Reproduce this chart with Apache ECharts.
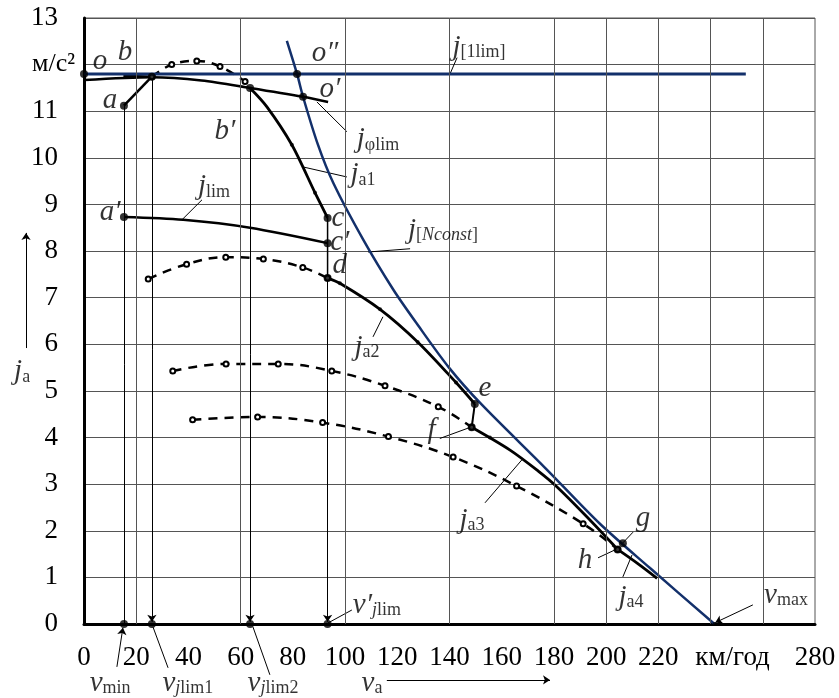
<!DOCTYPE html>
<html>
<head>
<meta charset="utf-8">
<script src="https://cdn.jsdelivr.net/npm/echarts@6/dist/echarts.min.js"></script>
<style>
html,body{margin:0;padding:0;background:#fff}
#chart{width:839px;height:698px}
</style>
</head>
<body>
<div id="chart"></div>
<script>
// vertical grid lines that are drawn in the source (km/h)
const gridX = [20, 60, 100, 140, 180, 200, 220, 240, 260];

// blue curves
const jLim1 = [[0, 11.8], [253.5, 11.8]];
const jNconst = [[77.7, 12.51], [81.6, 11.8], [83.9, 11.31], [89.5, 10.3], [95.5, 9.46], [107, 8.24],
  [118.5, 7.17], [127.4, 6.45], [139.8, 5.5], [152.1, 4.72], [176.8, 3.34],
  [197.6, 2.15], [216.8, 1.2], [241.5, 0]];

// black solid curves
const jPhiLim = [[0, 11.67], [26, 11.73], [45, 11.66], [63.6, 11.5], [83.9, 11.31], [93.5, 11.2]];
const jStart = [[15.1, 11.76], [26, 11.74]];
const jAB = [[15.3, 11.12], [26, 11.74]];
const jA1 = [[63.6, 11.5], [70, 11.1], [79.6, 10.28], [88.5, 9.25], [93.3, 8.71]];
const jLim = [[15.3, 8.73], [38, 8.67], [63.6, 8.5], [93.3, 8.17]];
const jCD = [[93.3, 8.71], [93.3, 8.17], [93.3, 7.42]];
const jA2 = [[93.3, 7.42], [98, 7.31], [113.4, 6.75], [127.8, 6.05], [142.5, 5.18], [149.7, 4.72]];
const jEF = [[149.7, 4.72], [148.5, 4.22]];
const jA3 = [[148.5, 4.22], [163.2, 3.73], [174, 3.28], [181, 2.95], [192.6, 2.3], [204.4, 1.6]];
const jA4 = [[204.4, 1.6], [212, 1.3], [219.5, 0.98]];

// dashed curves (open circles on them)
const dashTop = [[26, 11.74], [33.6, 12.0], [43.2, 12.08], [52.1, 11.96], [61.7, 11.64]];
const dash1 = [[24.6, 7.4], [39.3, 7.72], [54.3, 7.87], [68.7, 7.83], [83.8, 7.65], [93.3, 7.42]];
const dash2 = [[34, 5.43], [54.4, 5.58], [74.4, 5.58], [94.9, 5.43], [115.3, 5.11], [135.7, 4.66], [148.5, 4.22]];
const dash3 = [[41.6, 4.38], [66.5, 4.44], [91.4, 4.32], [116.6, 4.02], [141.4, 3.58], [165.7, 2.96], [191.2, 2.15], [204.4, 1.6]];

// marked points
const bigDots = [[0, 11.8], [26, 11.74], [15.3, 11.12], [63.6, 11.5], [81.6, 11.8], [83.9, 11.31],
  [15.3, 8.73], [93.3, 8.71], [93.3, 8.17], [93.3, 7.42], [149.7, 4.72], [148.5, 4.22],
  [206.4, 1.73], [204.4, 1.6], [15.3, 0], [26, 0], [63.6, 0], [93.3, 0]];
const smallDots = [[79.6, 10.28], [88.5, 9.25], [98, 7.31], [113.4, 6.75], [127.8, 6.05], [142.5, 5.18], [155.5, 4.0], [241.5, 0]];

// thin lines: drops to the axis and leaders
const thinLines = [
  [[15.3, 11.12], [15.3, 0]],
  [[142.9, 12.15], [140.2, 11.8]],
  [[100.7, 10.56], [89.2, 11.2]],
  [[100.7, 9.59], [83.5, 9.81]],
  [[45.2, 9.1], [37.5, 8.67]],
  [[108.8, 7.98], [124.9, 8.05]],
  [[110.7, 6.16], [114.5, 6.59]],
  [[136.3, 3.98], [148.5, 4.23]],
  [[153.6, 2.6], [167.7, 3.52]],
  [[210.3, 1.97], [206.4, 1.74]],
  [[196.9, 1.42], [203.4, 1.59]],
  [[206.4, 1.01], [209.9, 1.48]],
  [[102.6, 0.3], [93.4, 0.02]],
  [[32.2, -0.94], [26.4, -0.06]],
  [[71.2, -1.09], [64.7, -0.06]]
];
const arrowLines = [
  [[26, 11.74], [26, 0.05]],
  [[63.6, 11.5], [63.6, 0.05]],
  [[93.3, 7.42], [93.3, 0.05]],
  [[256.2, 0.41], [241.8, 0.03]],
  [[12.6, -0.92], [14.9, -0.08]],
  [[116, -1.2], [178.5, -1.2]],
  [[-22.2, 5.92], [-22.2, 8.39]]
];

// text labels: [v, j, rich text]
const labels = [
  [6.1, 12.06, '{i|o}'],
  [15.7, 12.27, '{i|b}'],
  [10, 11.24, '{i|a}'],
  [54, 10.56, '{i|b′}'],
  [92.3, 12.25, '{i|o″}'],
  [94.2, 11.46, '{i|o′}'],
  [151.3, 12.38, '{i|j}{s|[1lim]}'],
  [112.6, 10.39, '{i|j}{s|φlim}'],
  [106.9, 9.64, '{i|j}{s|a1}'],
  [49.8, 9.38, '{i|j}{s|lim}'],
  [10, 8.82, '{i|a′}'],
  [97.3, 8.71, '{i|c}'],
  [98, 8.18, '{i|c′}'],
  [98, 7.7, '{i|d}'],
  [137.5, 8.45, '{i|j}{s|[}{si|Nconst}{s|]}'],
  [108.4, 5.94, '{i|j}{s|a2}'],
  [153.6, 5.06, '{i|e}'],
  [133.1, 4.16, '{i|f}'],
  [148.6, 2.23, '{i|j}{s|a3}'],
  [214.1, 2.27, '{i|g}'],
  [191.9, 1.37, '{i|h}'],
  [209.5, 0.58, '{i|j}{s|a4}'],
  [268.9, 0.62, '{i|v}{s|max}'],
  [112.2, 0.41, '{i|v′}{si|j}{s|lim}'],
  [10, -1.27, '{i|v}{s|min}'],
  [39.8, -1.27, '{i|v}{si|j}{s|lim1}'],
  [72.4, -1.27, '{i|v}{si|j}{s|lim2}'],
  [110.3, -1.27, '{i|v}{s|a}'],
  [-23.7, 5.41, '{i|j}{s|a}']
];

const serif = 'Liberation Serif, Times New Roman, serif';
const richText = {
  i: {fontFamily: serif, fontStyle: 'italic', fontSize: 29, color: '#000', verticalAlign: 'top', lineHeight: 29, padding: [0, 0, 6, 0]},
  s: {fontFamily: serif, fontSize: 18, color: '#000', verticalAlign: 'bottom', lineHeight: 18},
  si: {fontFamily: serif, fontStyle: 'italic', fontSize: 18, color: '#000', verticalAlign: 'bottom', lineHeight: 18}
};

function solid(data, color, width) {
  return {type: 'line', data: data, smooth: 0.3, showSymbol: false, symbol: 'none', clip: false,
    lineStyle: {color: color, width: width}, z: 3, silent: true};
}
function dashed(data) {
  return {type: 'line', data: data, smooth: 0.4, symbol: 'emptyCircle', symbolSize: 5, showSymbol: true, showAllSymbol: true, clip: false,
    itemStyle: {color: '#000', borderWidth: 1},
    lineStyle: {color: '#000', width: 2.5, type: [9, 7]}, z: 3, silent: true};
}

const chart = echarts.init(document.getElementById('chart'));
chart.setOption({
  animation: false,
  grid: {left: 84, top: 18, right: 24, bottom: 74, show: true, borderColor: '#555', borderWidth: 1},
  xAxis: {
    type: 'value', min: 0, max: 280, interval: 20,
    axisLine: {onZero: false, lineStyle: {color: '#000', width: 3}},
    axisTick: {show: false},
    splitLine: {show: false},
    axisLabel: {
      margin: 20, color: '#000', fontFamily: serif, fontSize: 27,
      formatter: function (v) {
        if (v === 260) return '';
        if (v === 240) return '{u|км/год}';
        return String(v);
      },
      rich: {u: {fontFamily: serif, fontSize: 27, color: '#000', padding: [0, 0, 0, 44]}}
    }
  },
  yAxis: {
    type: 'value', min: 0, max: 13, interval: 1,
    axisLine: {onZero: false, lineStyle: {color: '#000', width: 3}},
    axisTick: {show: false},
    splitLine: {show: true, lineStyle: {color: '#555', width: 1}},
    axisLabel: {
      margin: 9, color: '#000', fontFamily: serif, fontSize: 27,
      formatter: function (v) { return v === 12 ? '{u|м/с²}' : '{n|' + v + '}'; },
      rich: {
        n: {fontFamily: serif, fontSize: 27, color: '#000', padding: [0, 17, 0, 0]},
        u: {fontFamily: serif, fontSize: 26, color: '#000'}
      }
    }
  },
  series: [
    {
      type: 'line', data: jLim1, symbol: 'none', lineStyle: {color: '#13306b', width: 3}, z: 4, silent: true,
      markLine: {
        silent: true, symbol: 'none', label: {show: false}, animation: false,
        lineStyle: {color: '#555', width: 1, type: 'solid'},
        data: gridX.map(function (v) { return {xAxis: v}; })
      }
    },
    solid(jNconst, '#13306b', 2.5),
    solid(jPhiLim, '#000', 2.5),
    solid(jStart, '#000', 2.5),
    solid(jAB, '#000', 2.5),
    solid(jA1, '#000', 2.8),
    solid(jLim, '#000', 2.5),
    solid(jCD, '#000', 1.5),
    solid(jA2, '#000', 2.8),
    solid(jEF, '#000', 2),
    solid(jA3, '#000', 2.8),
    solid(jA4, '#000', 2.8),
    dashed(dashTop),
    dashed(dash1),
    dashed(dash2),
    dashed(dash3),
    {
      type: 'lines', coordinateSystem: 'cartesian2d', clip: false, silent: true, z: 2,
      symbol: 'none', lineStyle: {color: '#000', width: 1, opacity: 1},
      data: thinLines.map(function (c) { return {coords: c}; })
    },
    {
      type: 'lines', coordinateSystem: 'cartesian2d', clip: false, silent: true, z: 2,
      symbol: ['none', 'arrow'], symbolSize: 7, lineStyle: {color: '#000', width: 1, opacity: 1},
      data: arrowLines.map(function (c) { return {coords: c}; })
    },
    {
      type: 'scatter', data: smallDots, symbolSize: 4, clip: false, silent: true, z: 5,
      itemStyle: {color: '#000'}
    },
    {
      type: 'scatter', data: bigDots, symbolSize: 8, clip: false, silent: true, z: 6,
      itemStyle: {color: '#000'}
    },
    {
      type: 'scatter', data: labels, symbolSize: 0.1, clip: false, silent: true, z: 7,
      itemStyle: {color: 'rgba(0,0,0,0)'},
      label: {
        show: true, position: 'inside', formatter: function (p) { return p.data[2]; },
        rich: richText
      }
    }
  ]
});
</script>
</body>
</html>
